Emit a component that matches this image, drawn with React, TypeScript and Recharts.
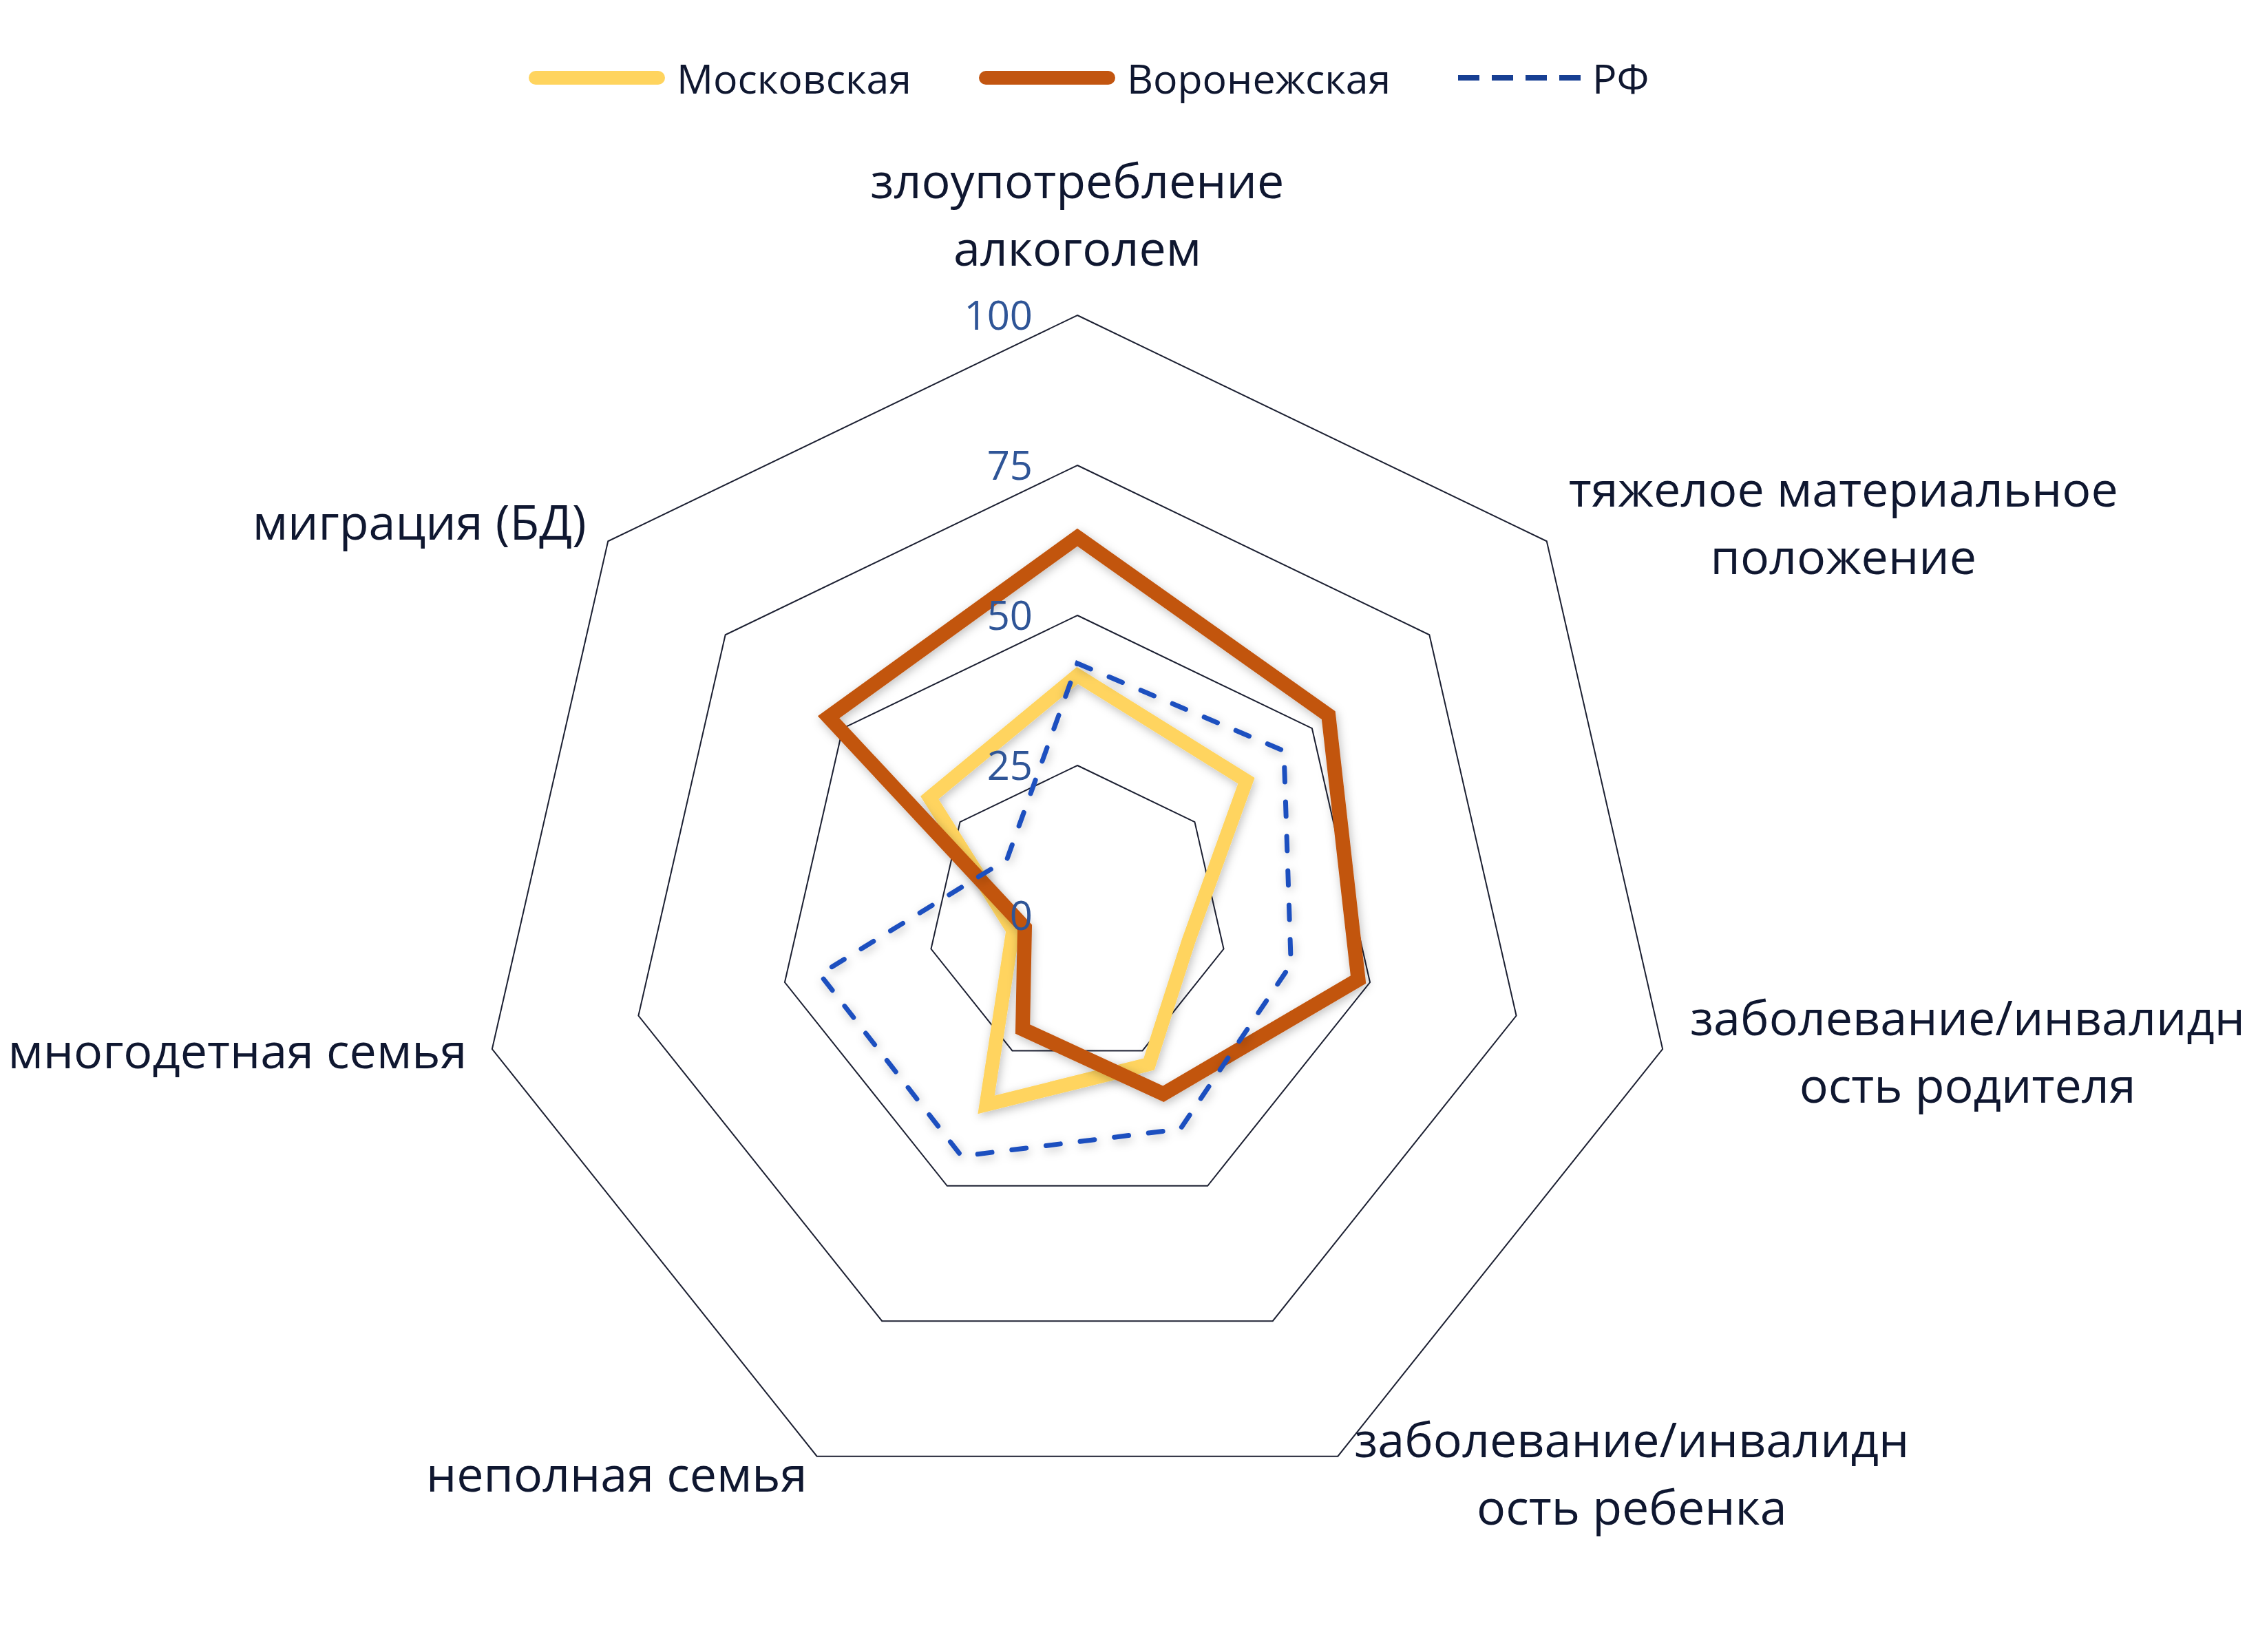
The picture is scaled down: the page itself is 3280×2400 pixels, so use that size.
import React from 'react';
import { RadarChart, Radar, PolarGrid, PolarAngleAxis, PolarRadiusAxis, Legend } from 'recharts';

// ---------- data ----------
const categories = [
  'злоупотребление алкоголем',
  'тяжелое материальное положение',
  'заболевание/инвалидность родителя',
  'заболевание/инвалидность ребенка',
  'неполная семья',
  'многодетная семья',
  'миграция (БД)',
];
const categoryLabelLines = [
  ['злоупотребление', 'алкоголем'],
  ['тяжелое материальное', 'положение'],
  ['заболевание/инвалидн', 'ость родителя'],
  ['заболевание/инвалидн', 'ость ребенка'],
  ['неполная семья'],
  ['многодетная семья'],
  ['миграция (БД)'],
];
const moskovskaya = [40, 36, 19, 27.5, 35, 11, 31.5];
const voronezhskaya = [63, 53.5, 48, 33, 21, 9, 53];
const rf = [42, 44, 36.5, 39.5, 44.5, 44, 15];
const radiusTicks = [0, 25, 50, 75, 100];
const seriesNames = ['Московская', 'Воронежская', 'РФ'];
const seriesKeys = ['m', 'v', 'r'];
const seriesColors = ['#FFD45E', '#C25510', '#1F4FBF'];
const seriesWidths = [20, 21, 7];
const seriesDash = ['', '', '21 29'];

const data = categories.map((c, i) => ({
  category: c,
  m: moskovskaya[i],
  v: voronezhskaya[i],
  r: rf[i],
}));

// ---------- layout ----------
const W = 3280;
const H = 2400;
const CX = 1565;
const CY = 1330;
const R = 872;
const FONT = "'Open Sans', 'Noto Sans', 'DejaVu Sans', sans-serif";
const LABEL_SIZE = 70;
const LINE_H = 98;
// [dx of label block center, dy of first baseline] relative to the outer vertex
const LABEL_OFFSETS = [
  [0, -170],
  [431, -50],
  [443, -20],
  [427, 1],
  [-291, 51],
  [-370, 28],
  [-274, -2],
];

const AngleTick = (props: any) => {
  const { x, y, payload } = props;
  let index = props.index;
  if (index === undefined || index === null) index = categories.indexOf(payload.value);
  const dx0 = x - CX;
  const dy0 = y - CY;
  const d = Math.hypot(dx0, dy0) || 1;
  const vx = CX + (dx0 / d) * R;
  const vy = CY + (dy0 / d) * R;
  const [ox, oy] = LABEL_OFFSETS[index] || [0, 0];
  const lines = categoryLabelLines[index] || [String(payload.value)];
  const tx = vx + ox;
  return (
    <text x={tx} y={vy + oy} textAnchor="middle" fontSize={LABEL_SIZE} fill="#0f1730" fontFamily={FONT}>
      {lines.map((l, i) => (
        <tspan key={i} x={tx} dy={i === 0 ? 0 : LINE_H}>
          {l}
        </tspan>
      ))}
    </text>
  );
};

const RadiusTick = (props: any) => {
  const { x, y, payload } = props;
  return (
    <text x={x - 65} y={y + 21} textAnchor="end" fontSize={58} fill="#2F5597" fontFamily={FONT}>
      {payload.value}
    </text>
  );
};

const makeShape = (k: number) => (p: any) => {
  const pts = p.points || [];
  if (!pts.length) return null;
  const d = pts.map((pt: any, i: number) => `${i ? 'L' : 'M'}${pt.x},${pt.y}`).join('') + 'Z';
  const fid = `shadow${k}`;
  return (
    <g>
      <defs>
        <filter id={fid} x="-20%" y="-20%" width="140%" height="140%">
          <feDropShadow dx="2" dy="4" stdDeviation="7" floodColor="#000" floodOpacity="0.25" />
        </filter>
      </defs>
      <path
        d={d}
        fill="none"
        stroke={seriesColors[k]}
        strokeWidth={seriesWidths[k]}
        strokeDasharray={seriesDash[k] || undefined}
        strokeLinejoin="miter"
        strokeLinecap={seriesDash[k] ? 'round' : 'butt'}
        filter={`url(#${fid})`}
      />
    </g>
  );
};

const LegendContent = () => {
  return (
    <div style={{ display: 'flex', alignItems: 'center', paddingLeft: 768, height: 80, fontFamily: FONT }}>
      {seriesNames.map((name, k) => {
        const dashed = !!seriesDash[k];
        return (
          <div key={name} style={{ display: 'flex', alignItems: 'center', marginRight: 98 }}>
            <svg width={198} height={30} style={{ display: 'block' }}>
              {dashed ? (
                <line x1={0} x2={178} y1={15} y2={15} stroke="#173f93" strokeWidth={8} strokeDasharray="31 18" />
              ) : (
                <line x1={10} x2={188} y1={15} y2={15} stroke={seriesColors[k]} strokeWidth={20} strokeLinecap="round" />
              )}
            </svg>
            <span style={{ fontSize: 59, color: '#0f1730', marginLeft: dashed ? -3 : 17, lineHeight: 1 }}>{name}</span>
          </div>
        );
      })}
    </div>
  );
};

export default function App() {
  return (
    <div style={{ position: 'absolute', left: 0, top: 0, width: W, height: H, background: '#ffffff' }}>
      <RadarChart
        width={W}
        height={H}
        data={data}
        cx={CX}
        cy={CY}
        outerRadius={R}
        margin={{ top: 0, right: 0, bottom: 0, left: 0 }}
      >
        <PolarGrid gridType="polygon" radialLines={false} stroke="#1c2032" strokeWidth={2} />
        <PolarAngleAxis dataKey="category" axisLine={false} tickLine={false} tick={AngleTick} />
        {seriesKeys.map((key, k) => (
          <Radar
            key={key}
            name={seriesNames[k]}
            dataKey={key}
            stroke={seriesColors[k]}
            strokeWidth={seriesWidths[k]}
            strokeDasharray={seriesDash[k] || undefined}
            fill="none"
            fillOpacity={0}
            dot={false}
            isAnimationActive={false}
            shape={makeShape(k)}
          />
        ))}
        <PolarRadiusAxis
          angle={90}
          domain={[0, 100]}
          tickCount={5}
          ticks={radiusTicks as any}
          axisLine={false}
          tickLine={false}
          tick={RadiusTick}
        />
        <Legend
          layout="horizontal"
          verticalAlign="middle"
          align="center"
          wrapperStyle={{ top: 73, left: 0, width: W }}
          content={LegendContent}
        />
      </RadarChart>
    </div>
  );
}
